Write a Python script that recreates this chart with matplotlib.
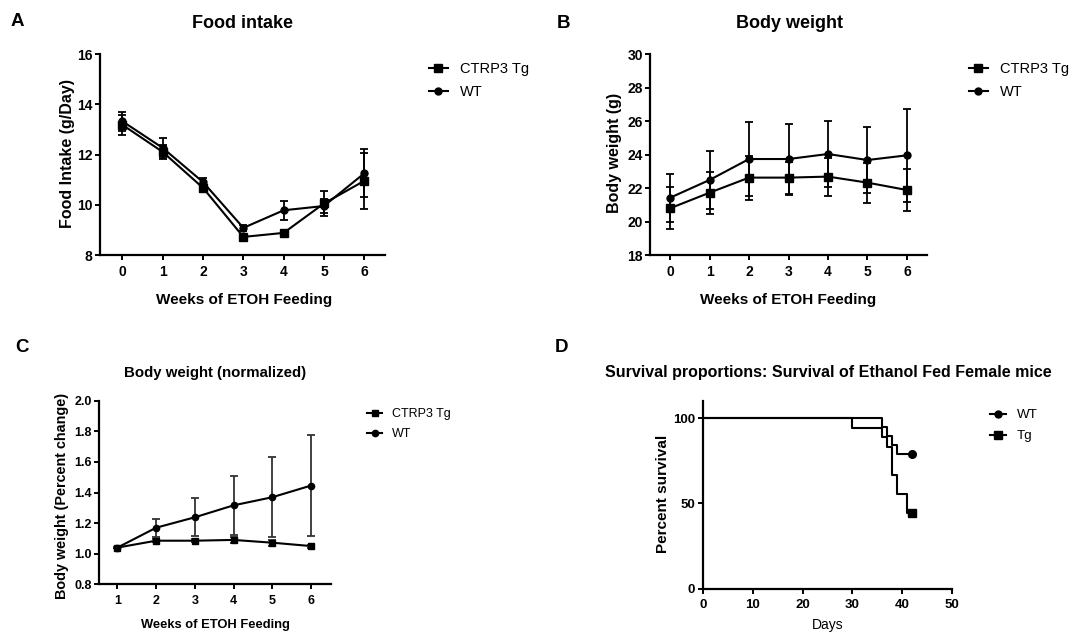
import matplotlib.pyplot as plt
from matplotlib.lines import Line2D

plt.rcParams['font.family'] = ['Liberation Sans', 'DejaVu Sans']

# A: food intake
weeks = [0, 1, 2, 3, 4, 5, 6]
food_tg = [13.18, 12.10, 10.67, 8.72, 8.88, 10.05, 10.95]
food_tg_err = [0.40, 0.28, 0.15, 0.12, 0.12, 0.50, 1.12]
food_wt = [13.32, 12.26, 10.90, 9.08, 9.78, 9.95, 11.25]
food_wt_err = [0.38, 0.40, 0.15, 0.12, 0.37, 0.28, 0.95]

# B: body weight
bw_tg = [20.79, 21.72, 22.62, 22.62, 22.68, 22.32, 21.88]
bw_tg_err = [1.25, 1.25, 1.32, 0.95, 1.14, 1.20, 1.27]
bw_wt = [21.42, 22.48, 23.73, 23.73, 24.03, 23.67, 23.95]
bw_wt_err = [1.42, 1.75, 2.19, 2.12, 1.98, 1.95, 2.77]

# C: normalized body weight
weeks_norm = [1, 2, 3, 4, 5, 6]
norm_tg = [1.04, 1.085, 1.085, 1.09, 1.072, 1.05]
norm_tg_err = [0.005, 0.01, 0.01, 0.02, 0.02, 0.01]
norm_wt = [1.04, 1.17, 1.238, 1.316, 1.369, 1.445]
norm_wt_err = [0.005, 0.06, 0.125, 0.195, 0.26, 0.33]

# D: survival
wt_days = [0, 36, 37, 38, 39, 42]
wt_surv = [100, 94.7, 89.5, 84.2, 78.9, 78.9]
tg_days = [0, 30, 36, 37, 38, 39, 41, 42]
tg_surv = [100, 94.4, 88.9, 83.3, 66.7, 55.6, 44.4, 44.4]

W, H = 1072, 633
fig = plt.figure(figsize=(W / 100, H / 100), dpi=100)


def axes_px(left, top, right, bottom):
    return fig.add_axes([left / W, 1 - bottom / H, (right - left) / W, (bottom - top) / H])


def text_px(x, y, s, **kw):
    fig.text(x / W, 1 - y / H, s, ha='center', va='center', **kw)


def style(ax, fs):
    ax.spines['top'].set_visible(False)
    ax.spines['right'].set_visible(False)
    ax.spines['left'].set_linewidth(1.6)
    ax.spines['bottom'].set_linewidth(1.6)
    ax.tick_params(width=1.4, length=3.5, labelsize=fs, pad=2)
    ax.tick_params(axis='x', pad=4)
    plt.setp(ax.get_xticklabels() + ax.get_yticklabels(), fontweight='bold')


def two_series(ax, x, tg, tg_err, wt, wt_err, ms, ecol='k'):
    kw = dict(color='k', lw=1.5, elinewidth=1.3, ecolor=ecol, capsize=3, capthick=1.3, clip_on=False)
    a = ax.errorbar(x, tg, yerr=tg_err, fmt='-s', ms=ms, **kw)
    b = ax.errorbar(x, wt, yerr=wt_err, fmt='-o', ms=ms - 0.5, **kw)
    return a.lines[0], b.lines[0]


def legend_px(ax, handles, labels, x, y, fs, hl):
    ax.legend(handles, labels, loc='upper left', bbox_to_anchor=(x / W, 1 - y / H),
              bbox_transform=fig.transFigure, frameon=False, fontsize=fs,
              borderpad=0, borderaxespad=0, handlelength=hl, handletextpad=0.8,
              labelspacing=0.65)


# ---- A ----
axA = axes_px(100.3, 54, 384.8, 255)
hA = two_series(axA, weeks, food_tg, food_tg_err, food_wt, food_wt_err, 5.5)
axA.set_xlim(-0.55, 6.51)
axA.set_ylim(8, 16)
axA.set_xticks(weeks)
axA.set_yticks([8, 10, 12, 14, 16])
style(axA, 10)
legend_px(axA, hA, ['CTRP3 Tg', 'WT'], 429, 62, 10.5, 1.3)
text_px(242.5, 23, 'Food intake', fontsize=13, fontweight='bold')
text_px(244, 300, 'Weeks of ETOH Feeding', fontsize=11, fontweight='bold')
text_px(67.5, 154, 'Food Intake (g/Day)', fontsize=11.5, fontweight='bold', rotation=90)
text_px(17, 22, 'A', fontsize=13.5, fontweight='bold')

# ---- B ----
axB = axes_px(650.4, 54, 927, 255)
hB = two_series(axB, weeks, bw_tg, bw_tg_err, bw_wt, bw_wt_err, 5.5)
axB.set_xlim(-0.5, 6.51)
axB.set_ylim(18, 30)
axB.set_xticks(weeks)
axB.set_yticks([18, 20, 22, 24, 26, 28, 30])
style(axB, 10)
legend_px(axB, hB, ['CTRP3 Tg', 'WT'], 969, 62, 10.5, 1.3)
text_px(789, 23, 'Body weight', fontsize=13, fontweight='bold')
text_px(788, 300, 'Weeks of ETOH Feeding', fontsize=11, fontweight='bold')
text_px(615, 153, 'Body weight (g)', fontsize=11.5, fontweight='bold', rotation=90)
text_px(563, 23, 'B', fontsize=13.5, fontweight='bold')

# ---- C ----
axC = axes_px(99.3, 400.7, 331, 584.3)
hC = two_series(axC, weeks_norm, norm_tg, norm_tg_err, norm_wt, norm_wt_err, 5, ecol='#333333')
axC.set_xlim(0.53, 6.52)
axC.set_ylim(0.8, 2.0)
axC.set_xticks(weeks_norm)
axC.set_yticks([0.8, 1.0, 1.2, 1.4, 1.6, 1.8, 2.0])
axC.set_yticklabels(['0.8', '1.0', '1.2', '1.4', '1.6', '1.8', '2.0'])
style(axC, 9)
legend_px(axC, hC, ['CTRP3 Tg', 'WT'], 367, 408, 9, 1.2)
text_px(215, 372.7, 'Body weight (normalized)', fontsize=10.8, fontweight='bold')
text_px(215, 625, 'Weeks of ETOH Feeding', fontsize=9.3, fontweight='bold')
text_px(62, 496, 'Body weight (Percent change)', fontsize=10.4, fontweight='bold', rotation=90)
text_px(22.5, 348, 'C', fontsize=13.5, fontweight='bold')

# ---- D ----
axD = axes_px(703, 401, 952, 588.7)
axD.step(wt_days, wt_surv, where='post', color='k', lw=1.5)
axD.step(tg_days, tg_surv, where='post', color='k', lw=1.5)
axD.plot(wt_days[-1], wt_surv[-1], 'o', color='k', ms=5.5, clip_on=False)
axD.plot(tg_days[-1], tg_surv[-1], 's', color='k', ms=6, clip_on=False)
axD.set_xlim(0, 50)
axD.set_ylim(0, 110)
axD.set_xticks([0, 10, 20, 30, 40, 50])
axD.set_yticks([0, 50, 100])
style(axD, 9.5)
dh = [Line2D([], [], color='k', lw=1.5, marker='o', ms=5),
      Line2D([], [], color='k', lw=1.5, marker='s', ms=5.5)]
legend_px(axD, dh, ['WT', 'Tg'], 990, 409, 9.6, 1.2)
text_px(828, 373, 'Survival proportions: Survival of Ethanol Fed Female mice', fontsize=11.5, fontweight='bold')
text_px(828, 625, 'Days', fontsize=10)
text_px(663, 494, 'Percent survival', fontsize=11, fontweight='bold', rotation=90)
text_px(562, 348, 'D', fontsize=13.5, fontweight='bold')

fig.savefig('out.png', dpi=100)
